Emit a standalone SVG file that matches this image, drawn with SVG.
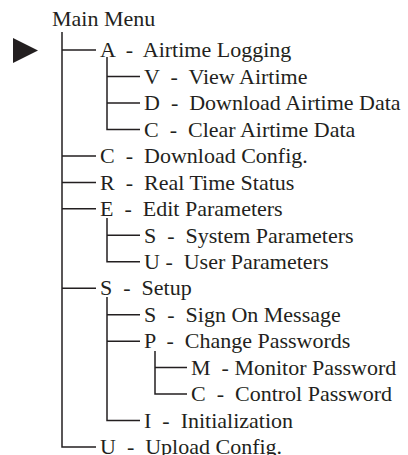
<svg xmlns="http://www.w3.org/2000/svg" width="408" height="455" viewBox="0 0 408 455">
<style>
.t{font-family:"Liberation Serif","Times New Roman",serif;font-size:22px;fill:#231f20;white-space:pre}
.c{fill:none;stroke:#231f20;stroke-width:1.5}
</style>
<rect width="408" height="455" fill="#fff"/>
<g id="pointer"><polygon points="13,38 38,50.5 13,63" fill="#231f20"/></g>
<g id="connectors" class="c">
<path d="M62 32V447H96"/>
<path d="M62 50H96M62 155.9H96M62 182.4H96M62 208.8H96M62 288.2H96"/>
<path d="M107 57V129.4H140M107 76.5H140M107 102.9H140"/>
<path d="M107 218V261.8H140M107 235.3H140"/>
<path d="M107 297V420.6H140M107 314.7H140M107 341.2H140"/>
<path d="M155 351V394.1H187M155 367.6H187"/>
</g>
<g id="main-menu"><text class="t" xml:space="preserve" x="52" y="26">Main Menu</text></g>
<g id="A"><text class="t" xml:space="preserve" x="100" y="57.2">A  -  Airtime Logging</text></g>
<g id="AV"><text class="t" xml:space="preserve" x="144" y="83.7">V  -  View Airtime</text></g>
<g id="AD"><text class="t" xml:space="preserve" x="144" y="110.1">D  -  Download Airtime Data</text></g>
<g id="AC"><text class="t" xml:space="preserve" x="144" y="136.6">C  -  Clear Airtime Data</text></g>
<g id="C"><text class="t" xml:space="preserve" x="100" y="163.1">C  -  Download Config.</text></g>
<g id="R"><text class="t" xml:space="preserve" x="100" y="189.6">R  -  Real Time Status</text></g>
<g id="E"><text class="t" xml:space="preserve" x="100" y="216">E  -  Edit Parameters</text></g>
<g id="ES"><text class="t" xml:space="preserve" x="144" y="242.5">S  -  System Parameters</text></g>
<g id="EU"><text class="t" xml:space="preserve" x="144" y="269">U -  User Parameters</text></g>
<g id="S"><text class="t" xml:space="preserve" x="100" y="295.4">S  -  Setup</text></g>
<g id="SS"><text class="t" xml:space="preserve" x="144" y="321.9">S  -  Sign On Message</text></g>
<g id="SP"><text class="t" xml:space="preserve" x="144" y="348.4">P  -  Change Passwords</text></g>
<g id="SPM"><text class="t" xml:space="preserve" x="191" y="374.8">M  - Monitor Password</text></g>
<g id="SPC"><text class="t" xml:space="preserve" x="191" y="401.3">C  -  Control Password</text></g>
<g id="SI"><text class="t" xml:space="preserve" x="144" y="427.8">I  -  Initialization</text></g>
<g id="U"><text class="t" xml:space="preserve" x="100" y="453.5">U  -  Upload Config.</text></g>
</svg>
